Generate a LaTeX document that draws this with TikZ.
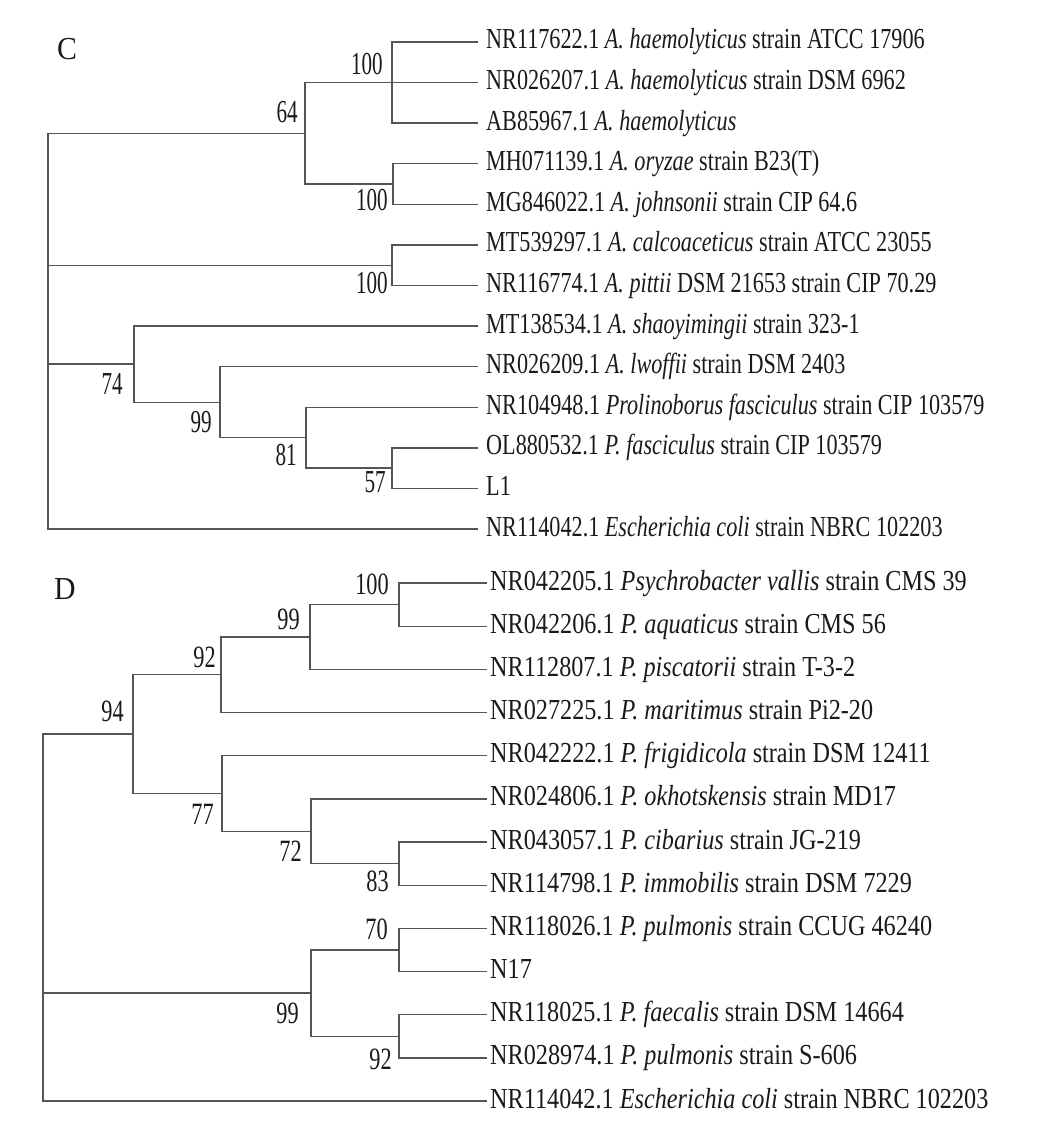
\documentclass[tikz,border=0pt]{standalone}
\usepackage{fontspec}
\setmainfont{Liberation Serif}
\newfontfamily\fLeafC{Liberation Serif}[FakeStretch=0.765]
\newfontfamily\fLeafD{Liberation Serif}[FakeStretch=0.835]
\newfontfamily\fBootC{Liberation Serif}[FakeStretch=0.66]
\newfontfamily\fBootD{Liberation Serif}[FakeStretch=0.72]
\newfontfamily\fPanel{Liberation Serif}[FakeStretch=0.93]
\definecolor{treeline}{HTML}{555555}
\definecolor{txt}{HTML}{1A1A1A}
\tikzset{
  br/.style={draw=treeline, line width=1.4pt},
  leafC/.style={anchor=base west, inner sep=0pt, text=txt, font=\fLeafC\fontsize{29}{34}\selectfont},
  leafD/.style={anchor=base west, inner sep=0pt, text=txt, font=\fLeafD\fontsize{29}{34}\selectfont},
  bootC/.style={anchor=base east, inner sep=0pt, text=txt, font=\fBootC\fontsize{32}{36}\selectfont},
  bootD/.style={anchor=base east, inner sep=0pt, text=txt, font=\fBootD\fontsize{31}{36}\selectfont},
  panel/.style={anchor=base west, inner sep=0pt, text=txt, font=\fPanel\fontsize{32}{36}\selectfont}
}
\begin{document}
\begin{tikzpicture}[x=1pt,y=-1pt]
\useasboundingbox[fill=white] (0,0) rectangle (1047,1123);

% ---------------- Panel C ----------------
\node[panel] (labC) at (57,60) {C};
% leaf ends
\coordinate (c1) at (478,42.0);
\coordinate (c2) at (478,82.6);
\coordinate (c3) at (478,123.2);
\coordinate (c4) at (478,163.7);
\coordinate (c5) at (478,204.3);
\coordinate (c6) at (478,244.9);
\coordinate (c7) at (478,285.5);
\coordinate (c8) at (478,326.1);
\coordinate (c9) at (478,366.7);
\coordinate (c10) at (478,407.2);
\coordinate (c11) at (478,447.8);
\coordinate (c12) at (478,488.4);
\coordinate (c13) at (478,529.0);
% internal nodes
\coordinate (cA) at (392,82.6);
\coordinate (cB) at (393,184.0);
\coordinate (c64) at (305,133.3);
\coordinate (cP) at (392,265.2);
\coordinate (c57) at (392,468.1);
\coordinate (c81) at (306,437.7);
\coordinate (c99) at (220,402.2);
\coordinate (c74) at (134,364.1);
\coordinate (cR) at (48,331);

\draw[br] (cA) |- (c1); \draw[br] (cA) |- (c2); \draw[br] (cA) |- (c3);
\draw[br] (cB) |- (c4); \draw[br] (cB) |- (c5);
\draw[br] (c64) |- (cA); \draw[br] (c64) |- (cB);
\draw[br] (cP) |- (c6); \draw[br] (cP) |- (c7);
\draw[br] (c57) |- (c11); \draw[br] (c57) |- (c12);
\draw[br] (c81) |- (c10); \draw[br] (c81) |- (c57);
\draw[br] (c99) |- (c9); \draw[br] (c99) |- (c81);
\draw[br] (c74) |- (c8); \draw[br] (c74) |- (c99);
\draw[br] (cR) |- (c64); \draw[br] (cR) |- (cP); \draw[br] (cR) |- (c74); \draw[br] (cR) |- (c13);

\node[leafC] (tc1) at (486,49.0) {NR117622.1 \textit{A. haemolyticus} strain ATCC 17906};
\node[leafC] (tc2) at (486,89.6) {NR026207.1 \textit{A. haemolyticus} strain DSM 6962};
\node[leafC] (tc3) at (486,130.2) {AB85967.1 \textit{A. haemolyticus}};
\node[leafC] (tc4) at (486,170.7) {MH071139.1 \textit{A. oryzae} strain B23(T)};
\node[leafC] (tc5) at (486,211.3) {MG846022.1 \textit{A. johnsonii} strain CIP 64.6};
\node[leafC] (tc6) at (486,251.9) {MT539297.1 \textit{A. calcoaceticus} strain ATCC 23055};
\node[leafC] (tc7) at (486,292.5) {NR116774.1 \textit{A. pittii} DSM 21653 strain CIP 70.29};
\node[leafC] (tc8) at (486,333.1) {MT138534.1 \textit{A. shaoyimingii} strain 323-1};
\node[leafC] (tc9) at (486,373.7) {NR026209.1 \textit{A. lwoffii} strain DSM 2403};
\node[leafC] (tc10) at (486,414.2) {NR104948.1 \textit{Prolinoborus fasciculus} strain CIP 103579};
\node[leafC] (tc11) at (486,454.8) {OL880532.1 \textit{P. fasciculus} strain CIP 103579};
\node[leafC] (tc12) at (486,495.4) {L1};
\node[leafC] (tc13) at (486,536.0) {NR114042.1 \textit{Escherichia coli} strain NBRC 102203};

\node[bootC] (bcA) at (383,75) {100};
\node[bootC] (bc64) at (298,123) {64};
\node[bootC] (bcB) at (388,211) {100};
\node[bootC] (bcP) at (388,293) {100};
\node[bootC] (bc74) at (123,394) {74};
\node[bootC] (bc99) at (212,432) {99};
\node[bootC] (bc81) at (297,465) {81};
\node[bootC] (bc57) at (386,492) {57};

% ---------------- Panel D ----------------
\node[panel] (labD) at (54,599) {D};
\coordinate (d1) at (487,583.0);
\coordinate (d2) at (487,626.2);
\coordinate (d3) at (487,669.3);
\coordinate (d4) at (487,712.5);
\coordinate (d5) at (487,755.7);
\coordinate (d6) at (487,798.8);
\coordinate (d7) at (487,842.0);
\coordinate (d8) at (487,885.2);
\coordinate (d9) at (487,928.3);
\coordinate (d10) at (487,971.5);
\coordinate (d11) at (487,1014.7);
\coordinate (d12) at (487,1057.8);
\coordinate (d13) at (487,1101.0);

\coordinate (dA) at (399,604.6);
\coordinate (d99) at (310,637.0);
\coordinate (d92) at (221,674.7);
\coordinate (d83) at (399,863.6);
\coordinate (d72) at (311,831.2);
\coordinate (d77) at (222,793.5);
\coordinate (d94) at (133,734.0);
\coordinate (d70) at (399,950.0);
\coordinate (d92b) at (399,1036.2);
\coordinate (d99b) at (311,993.0);
\coordinate (dR) at (43,900);

\draw[br] (dA) |- (d1); \draw[br] (dA) |- (d2);
\draw[br] (d99) |- (dA); \draw[br] (d99) |- (d3);
\draw[br] (d92) |- (d99); \draw[br] (d92) |- (d4);
\draw[br] (d83) |- (d7); \draw[br] (d83) |- (d8);
\draw[br] (d72) |- (d6); \draw[br] (d72) |- (d83);
\draw[br] (d77) |- (d5); \draw[br] (d77) |- (d72);
\draw[br] (d94) |- (d92); \draw[br] (d94) |- (d77);
\draw[br] (d70) |- (d9); \draw[br] (d70) |- (d10);
\draw[br] (d92b) |- (d11); \draw[br] (d92b) |- (d12);
\draw[br] (d99b) |- (d70); \draw[br] (d99b) |- (d92b);
\draw[br] (dR) |- (d94); \draw[br] (dR) |- (d99b); \draw[br] (dR) |- (d13);

\node[leafD] (td1) at (490,590.0) {NR042205.1 \textit{Psychrobacter vallis} strain CMS 39};
\node[leafD] (td2) at (490,633.2) {NR042206.1 \textit{P. aquaticus} strain CMS 56};
\node[leafD] (td3) at (490,676.3) {NR112807.1 \textit{P. piscatorii} strain T-3-2};
\node[leafD] (td4) at (490,719.5) {NR027225.1 \textit{P. maritimus} strain Pi2-20};
\node[leafD] (td5) at (490,762.7) {NR042222.1 \textit{P. frigidicola} strain DSM 12411};
\node[leafD] (td6) at (490,805.8) {NR024806.1 \textit{P. okhotskensis} strain MD17};
\node[leafD] (td7) at (490,849.0) {NR043057.1 \textit{P. cibarius} strain JG-219};
\node[leafD] (td8) at (490,892.2) {NR114798.1 \textit{P. immobilis} strain DSM 7229};
\node[leafD] (td9) at (490,935.3) {NR118026.1 \textit{P. pulmonis} strain CCUG 46240};
\node[leafD] (td10) at (490,978.5) {N17};
\node[leafD] (td11) at (490,1021.7) {NR118025.1 \textit{P. faecalis} strain DSM 14664};
\node[leafD] (td12) at (490,1064.8) {NR028974.1 \textit{P. pulmonis} strain S-606};
\node[leafD] (td13) at (490,1108.0) {NR114042.1 \textit{Escherichia coli} strain NBRC 102203};

\node[bootD] (bdA) at (389,594) {100};
\node[bootD] (bd99) at (300,629) {99};
\node[bootD] (bd92) at (216,667) {92};
\node[bootD] (bd94) at (124,721) {94};
\node[bootD] (bd77) at (214,824) {77};
\node[bootD] (bd72) at (302,861) {72};
\node[bootD] (bd83) at (389,891) {83};
\node[bootD] (bd70) at (388,939) {70};
\node[bootD] (bd99b) at (299,1023) {99};
\node[bootD] (bd92b) at (392,1069) {92};
\end{tikzpicture}
\end{document}
